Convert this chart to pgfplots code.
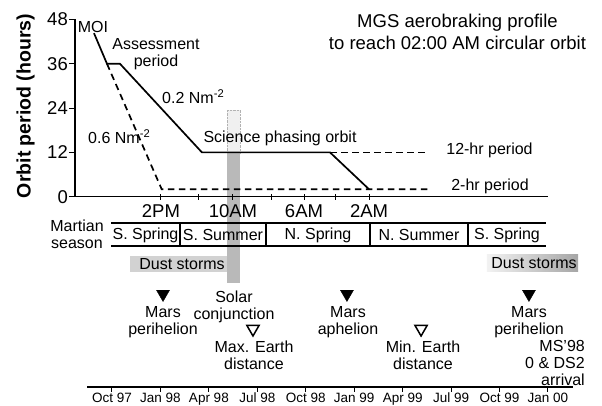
\documentclass[border=0pt]{standalone}
\usepackage{pgfplots}
\pgfplotsset{compat=1.18}
\usepackage{fontspec}
\setmainfont{Liberation Sans}
\newcommand\fa{\fontsize{16}{17}\selectfont}
\newcommand\ft{\fontsize{18.5}{21.5}\selectfont}
\begin{document}
\begin{tikzpicture}
\useasboundingbox (0,0) rectangle (602pt,406pt);
% ---------------- lower axis: timeline, seasons, events ----------------
\begin{axis}[
  at={(87pt,19pt)}, anchor=south west, scale only axis,
  width=486pt, height=387pt,
  xmin=-1.548, xmax=28.549, ymin=-387, ymax=0,
  axis x line*=bottom, axis y line=none, clip=false,
  axis line style={line width=1.2pt},
  xtick={0,3,...,27},
  xticklabels={Oct 97,Jan 98,Apr 98,Jul 98,Oct 98,Jan 99,Apr 99,Jul 99,Oct 99,Jan 00},
  tick align=outside, major tick length=5pt,
  every tick/.style={black, line width=1pt},
  xticklabel style={font=\fontsize{13.5}{14}\selectfont, inner sep=1pt},
  /pgf/number format/assume math mode=true,
]
% solar conjunction column
\addplot[draw=gray!60, densely dotted, fill=gray!12] coordinates {(7.12,-110) (7.93,-110) (7.93,-153) (7.12,-153)} -- cycle;
\addplot[draw=none, fill=gray!55] coordinates {(7.12,-153) (7.93,-153) (7.93,-283) (7.12,-283)} -- cycle;
% dust storms
\addplot[draw=none, fill=gray!35] coordinates {(1.11,-256) (7.12,-256) (7.12,-272) (1.11,-272)} -- cycle;
\addplot[draw=none, left color=gray!10, right color=gray!70] coordinates {(23.22,-255) (28.86,-255) (28.86,-272) (23.22,-272)} -- cycle;
% martian seasons
\addplot[black, line width=1.2pt] coordinates {(-0.06,-223) (26.88,-223)};
\addplot[black, line width=1.2pt] coordinates {(-0.06,-246) (26.88,-246)};
\addplot[black, line width=1.2pt] coordinates {(4.21,-223) (4.21,-246)};
\addplot[black, line width=1.2pt] coordinates {(9.54,-223) (9.54,-246)};
\addplot[black, line width=1.2pt] coordinates {(15.98,-223) (15.98,-246)};
\addplot[black, line width=1.2pt] coordinates {(22.05,-223) (22.05,-246)};
% events
\addplot[only marks, mark=triangle*, mark size=7.5pt, mark options={rotate=180, fill=black, draw=black}] coordinates {(3.16,-294) (14.55,-294) (25.82,-294)};
\addplot[only marks, mark=triangle, mark size=7pt, mark options={rotate=180, line width=1.5pt, draw=black}] coordinates {(8.73,-329) (19.14,-329)};
\end{axis}
% ---------------- upper axis: orbit period ----------------
\begin{axis}[
  at={(75pt,209.3pt)}, anchor=south west, scale only axis,
  width=473pt, height=177.2pt,
  xmin=-2.291, xmax=27.0, ymin=0, ymax=48,
  axis lines*=left, clip=false,
  axis line style={line width=1.2pt},
  xtick={3.03,5.33,7.49,9.85,11.89,13.87,15.92},
  xticklabels={2PM,,10AM,,6AM,,2AM},
  ytick={0,12,24,36,48},
  tick align=outside, xtick align=center, major tick length=6pt,
  every tick/.style={black, line width=1pt},
  tick label style={font=\ft},
  xticklabel style={yshift=-1.5pt},
  yticklabel style={inner sep=1pt},
  /pgf/number format/assume math mode=true,
]
\addplot[black, line width=1.7pt] coordinates {(-1.115,44.3) (-0.31,36) (0.495,36) (5.57,12) (13.5,12) (15.92,2)};
\addplot[black, line width=1.7pt, dash pattern=on 6.5pt off 4.5pt] coordinates {(-0.31,36) (3.08,2) (19.69,2)};
\addplot[black, line width=1.7pt, dash pattern=on 6.5pt off 4.5pt] coordinates {(13.5,12) (19.57,12)};
\end{axis}
% ---------------- text (pixel positions, y downwards) ----------------
\begin{scope}[x=1pt, y=-1pt, yshift=406pt]
\node[font=\fontsize{19.5}{20}\selectfont\bfseries, rotate=90] at (25.5,106) {Orbit period (hours)};
\node[font=\ft, align=center] at (457.5,32) {MGS aerobraking profile\\to reach 02:00 AM circular orbit};
\node[font=\fa] at (93,27) {MOI};
\node[font=\fa, align=center] at (156,54.5) {Assessment\\period};
\node[font=\fa, anchor=west, inner sep=0pt] at (162,97) {0.2 Nm\textsuperscript{-2}};
\node[font=\fa, anchor=west, inner sep=0pt] at (88,137) {0.6 Nm\textsuperscript{-2}};
\node[font=\fa] at (280,138) {Science phasing orbit};
\node[font=\fa] at (489.5,150) {12-hr period};
\node[font=\fa] at (490,186) {2-hr period};
\node[font=\fa, align=center] at (77,234) {Martian\\season};
\node[font=\fa] at (145.5,235) {S. Spring};
\node[font=\fa] at (223,235) {S. Summer};
\node[font=\fa] at (318,235) {N. Spring};
\node[font=\fa] at (419,235) {N. Summer};
\node[font=\fa] at (507,235) {S. Spring};
\node[font=\fa] at (182,264) {Dust storms};
\node[font=\fa] at (534,263.5) {Dust storms};
\node[font=\fa, align=center] at (163,322) {Mars\\perihelion};
\node[font=\fa, align=center] at (234,307) {Solar\\conjunction};
\node[font=\fa, align=center] at (254,355.5) {Max. Earth\\distance};
\node[font=\fa, align=center] at (348,322) {Mars\\aphelion};
\node[font=\fa, align=center] at (423,355.5) {Min. Earth\\distance};
\node[font=\fa, align=center] at (529,322) {Mars\\perihelion};
\node[font=\fa, align=right, anchor=north east, inner sep=0pt] at (585,340) {MS'98\\0 \& DS2\\arrival};
\end{scope}
\end{tikzpicture}
\end{document}
